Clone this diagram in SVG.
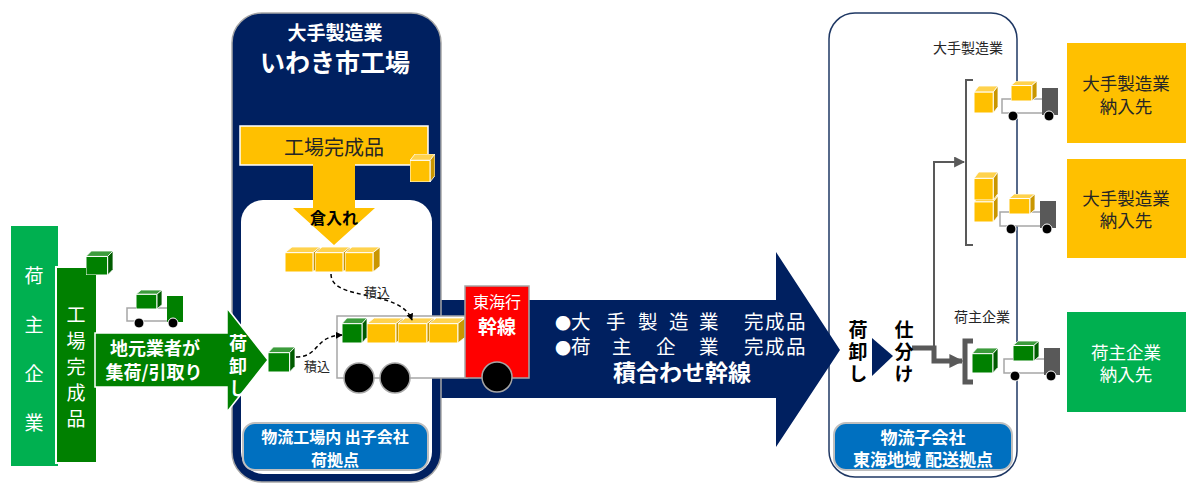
<svg xmlns="http://www.w3.org/2000/svg" width="1186" height="485" viewBox="0 0 1186 485">
  <style>
    text { font-family: "Noto Sans CJK JP", "Noto Sans", sans-serif; }
    .w { fill: #ffffff; }
    .k { fill: #000000; }
    .d { fill: #262626; }
    .b { font-weight: bold; }
    .c { text-anchor: middle; }
    .v { writing-mode: vertical-rl; text-anchor: middle; }
    .lbl { fill: #0070C0; stroke: #BFBFBF; stroke-width: 2; }
    .dash { fill: none; stroke: #000; stroke-width: 1.5; stroke-dasharray: 4 3; }
    .wheel { fill: #000; stroke: #ffffff; stroke-width: 1; }
    .bigwheel { fill: #000; stroke: #A6A6A6; stroke-width: 1.5; }
    .dot { font-size: 16px; }
  </style>
  <defs>
    <!-- box glyphs: top face, side face, front face -->
    <symbol id="cubeY" viewBox="0 0 25 22" preserveAspectRatio="none">
      <polygon points="0,5 5,0 25,0 20,5" fill="#FFD24D" stroke="#fff" stroke-width="0.8" vector-effect="non-scaling-stroke"/>
      <polygon points="20,5 25,0 25,17 20,22" fill="#C99600" stroke="#fff" stroke-width="0.8" vector-effect="non-scaling-stroke"/>
      <rect x="0" y="5" width="20" height="17" fill="#FFC000" stroke="#fff" stroke-width="1" vector-effect="non-scaling-stroke"/>
    </symbol>
    <symbol id="cubeG" viewBox="0 0 25 22" preserveAspectRatio="none">
      <polygon points="0,5 5,0 25,0 20,5" fill="#3C9C3C" stroke="#fff" stroke-width="0.8" vector-effect="non-scaling-stroke"/>
      <polygon points="20,5 25,0 25,17 20,22" fill="#005C00" stroke="#fff" stroke-width="0.8" vector-effect="non-scaling-stroke"/>
      <rect x="0" y="5" width="20" height="17" fill="#008000" stroke="#fff" stroke-width="1" vector-effect="non-scaling-stroke"/>
    </symbol>
    <!-- small delivery trucks -->
    <g id="truckGG">
      <rect x="0" y="18" width="42" height="13" fill="#fff" stroke="#A6A6A6" stroke-width="1.5"/>
      <rect x="40" y="6" width="16" height="26" fill="#008000"/>
      <use href="#cubeG" x="9" y="0" width="26" height="19"/>
      <circle class="wheel" cx="12" cy="33" r="5"/>
      <circle class="wheel" cx="46" cy="33" r="5"/>
    </g>
    <g id="truckDY">
      <rect x="0" y="18" width="42" height="14" fill="#fff" stroke="#A6A6A6" stroke-width="1.5"/>
      <rect x="40" y="7" width="16" height="27" fill="#595959"/>
      <use href="#cubeY" x="9" y="0" width="26" height="20"/>
      <circle class="wheel" cx="11" cy="35" r="5"/>
      <circle class="wheel" cx="47" cy="35" r="5"/>
    </g>
    <g id="truckDG">
      <rect x="0" y="18" width="42" height="14" fill="#fff" stroke="#A6A6A6" stroke-width="1.5"/>
      <rect x="40" y="7" width="16" height="27" fill="#595959"/>
      <use href="#cubeG" x="9" y="0" width="26" height="20"/>
      <circle class="wheel" cx="11" cy="35" r="5"/>
      <circle class="wheel" cx="47" cy="35" r="5"/>
    </g>
    <marker id="arrBlack" viewBox="0 0 10 10" refX="9" refY="5" markerWidth="7" markerHeight="7" markerUnits="userSpaceOnUse" orient="auto">
      <path d="M0,0 L10,5 L0,10 z" fill="#000"/>
    </marker>
    <marker id="arrGray" viewBox="0 0 10 10" refX="9" refY="5" markerWidth="11" markerHeight="11" markerUnits="userSpaceOnUse" orient="auto">
      <path d="M0,0 L10,5 L0,10 z" fill="#595959"/>
    </marker>
    <marker id="arrGrayThick" viewBox="0 0 10 10" refX="9" refY="5" markerWidth="14" markerHeight="14" markerUnits="userSpaceOnUse" orient="auto">
      <path d="M0,0 L10,5 L0,10 z" fill="#595959"/>
    </marker>
  </defs>

  <!-- shipper company column -->
  <g id="shipper">
    <rect x="11" y="226" width="47" height="240" fill="#00B050"/>
    <text class="w v" font-size="19" letter-spacing="30" x="34" y="364">荷主企業</text>
  </g>

  <g id="shipper-goods">
    <rect x="56" y="267" width="41" height="196" fill="#008000" stroke="#fff" stroke-width="2"/>
    <text class="w v" font-size="19" letter-spacing="7" x="76" y="370">工場完成品</text>
    <use href="#cubeG" x="86" y="251" width="27" height="24"/>
  </g>

  <!-- right-hand distribution hub -->
  <g id="tokai-hub">
    <rect x="829" y="13" width="188" height="464" rx="26" fill="#fff" stroke="#1F3864" stroke-width="1.5"/>
  </g>

  <!-- consolidated trunk line arrow -->
  <g id="trunk-line">
    <polygon points="436,300 776,300 776,252 840,350 776,447 776,398 436,398" fill="#002060"/>
    <text class="w" font-size="19.5" y="329"><tspan class="dot" x="555">●</tspan><tspan x="571 606 638 669 699 744 765 786">大手製造業完成品</tspan></text>
    <text class="w" font-size="19.5" y="354"><tspan class="dot" x="555">●</tspan><tspan x="571 612 656 699 744 765 786">荷主企業完成品</tspan></text>
    <text class="w b c" font-size="23" x="682" y="381">積合わせ幹線</text>
  </g>

  <!-- factory site -->
  <g id="iwaki-factory">
    <rect x="232" y="13" width="209" height="469" rx="30" fill="#002060" stroke="#A6A6A6" stroke-width="1.5"/>
    <text class="w b c" font-size="19" x="335" y="40">大手製造業</text>
    <text class="w b c" font-size="25" x="335" y="72">いわき市工場</text>
    <rect x="241" y="200" width="191" height="274" rx="22" fill="#fff"/>
  </g>

  <g id="factory-goods">
    <rect x="240" y="126" width="188" height="39" fill="#FFC000" stroke="#fff" stroke-width="1.5"/>
    <text class="d c" font-size="20" x="334" y="155">工場完成品</text>
    <use href="#cubeY" x="410" y="154" width="25" height="28"/>
  </g>

  <g id="store-in">
    <polygon points="313,164 355,164 355,208 375,208 334,245 293,208 313,208" fill="#FFC000"/>
    <text class="k b c" font-size="16" x="334" y="224">倉入れ</text>
  </g>

  <g id="stock">
    <use href="#cubeY" x="285" y="247" width="35" height="25"/>
    <use href="#cubeY" x="315" y="247" width="35" height="25"/>
    <use href="#cubeY" x="345" y="247" width="35" height="25"/>
  </g>

  <g id="trunk-truck">
    <rect x="337" y="316" width="130" height="62" fill="#fff" stroke="#A6A6A6" stroke-width="1.5"/>
    <use href="#cubeG" x="342" y="318" width="25" height="25"/>
    <use href="#cubeY" x="367" y="318" width="36" height="25"/>
    <use href="#cubeY" x="398" y="318" width="36" height="25"/>
    <use href="#cubeY" x="429" y="318" width="36" height="25"/>
    <rect x="465" y="286" width="64" height="92" fill="#FF0000" stroke="#A6A6A6" stroke-width="1.5"/>
    <text class="w c" font-size="16" x="497" y="308">東海行</text>
    <text class="w b c" font-size="19" x="497" y="334">幹線</text>
    <circle class="bigwheel" cx="359" cy="378" r="15"/>
    <circle class="bigwheel" cx="395" cy="378" r="15"/>
    <circle class="bigwheel" cx="497" cy="377" r="15"/>
  </g>

  <g id="factory-hub-label">
    <rect class="lbl" x="243" y="423" width="185" height="47" rx="12"/>
    <text class="w b c" font-size="16" x="335" y="443">物流工場内 出子会社</text>
    <text class="w b c" font-size="16" x="335" y="466">荷拠点</text>
  </g>

  <!-- local pickup arrow -->
  <g id="pickup">
    <polygon points="95,333 227,333 227,308 268,360 227,412 227,387 95,387" fill="#008000" stroke="#fff" stroke-width="1.5"/>
    <text class="w b c" font-size="18" x="155" y="355">地元業者が</text>
    <text class="w b c" font-size="18" x="154" y="379">集荷/引取り</text>
    <text class="w b v" font-size="18" letter-spacing="4.5" x="238" y="368">荷卸し</text>
    <use href="#truckGG" x="127" y="290"/>
    <use href="#cubeG" x="268" y="347" width="27" height="25"/>
  </g>

  <!-- loading connectors and distribution flow -->
  <g id="connectors">
    <path class="dash" d="M331,274 C331,302 400,288 412,320" marker-end="url(#arrBlack)"/>
    <text class="d c" font-size="13" x="377" y="297">積込</text>
    <path class="dash" d="M296,357 C320,357 314,336 342,335" marker-end="url(#arrBlack)"/>
    <text class="d c" font-size="13" x="317" y="371">積込</text>
    <path d="M934,361 L934,162 L964,162" fill="none" stroke="#595959" stroke-width="2" marker-end="url(#arrGray)"/>
    <path d="M912,348 L934,348 L934,361 L962,361" fill="none" stroke="#595959" stroke-width="5" marker-end="url(#arrGrayThick)"/>
    <path d="M973,80 L966,80 L966,245 L973,245" fill="none" stroke="#595959" stroke-width="2"/>
    <path d="M973,341 L965,341 L965,382 L973,382" fill="none" stroke="#595959" stroke-width="5"/>
  </g>

  <g id="hub-sorting">
    <text class="k b v" font-size="19" letter-spacing="3" x="858" y="353">荷卸し</text>
    <polygon points="872,338 893,356 872,376" fill="#002060"/>
    <text class="k b v" font-size="19" letter-spacing="3" x="904" y="353">仕分け</text>
  </g>

  <g id="maker-delivery">
    <text class="d c" font-size="14" x="968" y="53">大手製造業</text>
    <use href="#cubeY" x="974" y="86" width="24" height="27"/>
    <use href="#truckDY" x="1002" y="81"/>
    <use href="#cubeY" x="974" y="196" width="24" height="26"/>
    <use href="#cubeY" x="974" y="172" width="24" height="28"/>
    <use href="#truckDY" x="1000" y="194"/>
  </g>

  <g id="shipper-delivery">
    <text class="d c" font-size="14" x="982" y="322">荷主企業</text>
    <use href="#cubeG" x="972" y="348" width="26" height="25"/>
    <use href="#truckDG" x="1004" y="341"/>
  </g>

  <g id="tokai-hub-label">
    <rect class="lbl" x="834" y="423" width="178" height="47" rx="12"/>
    <text class="w b c" font-size="17" x="923" y="444">物流子会社</text>
    <text class="w b c" font-size="17" x="923" y="466">東海地域 配送拠点</text>
  </g>

  <!-- delivery destinations -->
  <g id="dest-maker-1">
    <rect x="1067" y="43" width="119" height="100" fill="#FFC000"/>
    <text class="d c" font-size="17.5" x="1126" y="90">大手製造業</text>
    <text class="d c" font-size="17.5" x="1126" y="113">納入先</text>
  </g>
  <g id="dest-maker-2">
    <rect x="1067" y="159" width="119" height="99" fill="#FFC000"/>
    <text class="d c" font-size="17.5" x="1126" y="205">大手製造業</text>
    <text class="d c" font-size="17.5" x="1126" y="227">納入先</text>
  </g>
  <g id="dest-shipper">
    <rect x="1067" y="312" width="119" height="100" fill="#00B050"/>
    <text class="w c" font-size="17.5" x="1126" y="359">荷主企業</text>
    <text class="w c" font-size="17.5" x="1126" y="381">納入先</text>
  </g>
</svg>
